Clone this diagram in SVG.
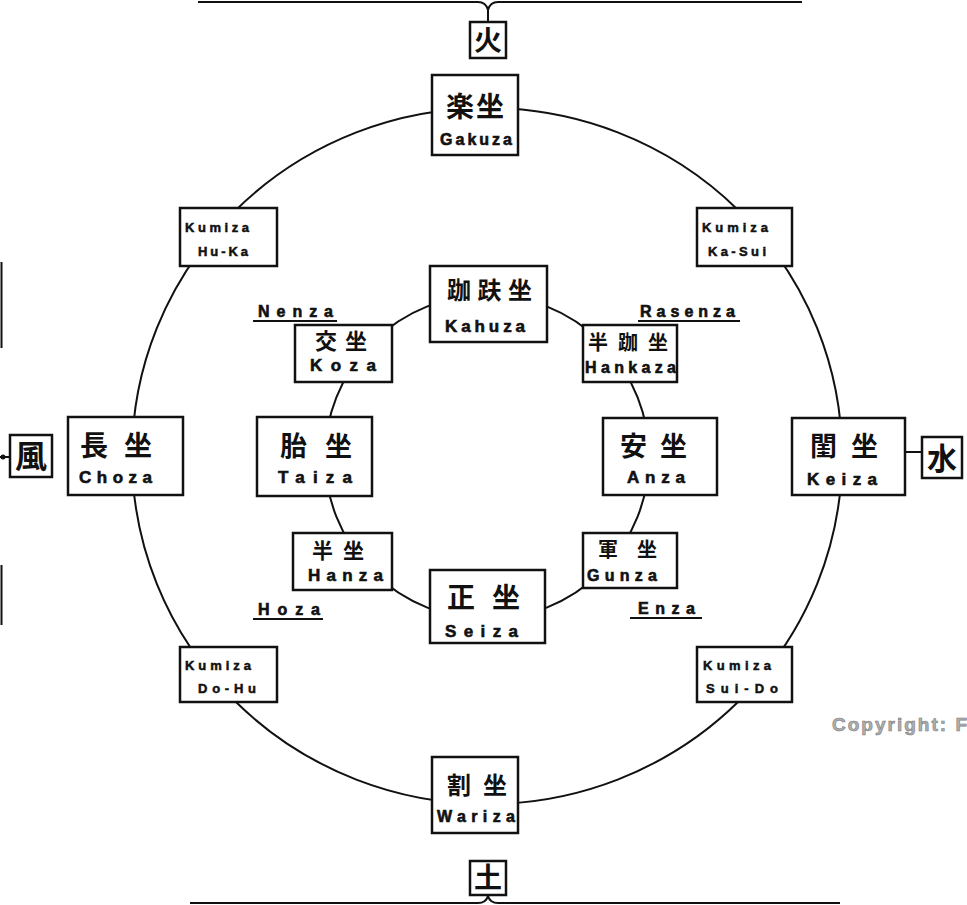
<svg xmlns="http://www.w3.org/2000/svg" width="967" height="905" viewBox="0 0 967 905">
<style>
.bx{fill:#fff;stroke:#111;stroke-width:2.5}
.el{fill:#fff;stroke:#111;stroke-width:2.5}
.ln{fill:none;stroke:#111;stroke-width:2}
.kj{font-family:"Noto Sans CJK JP","Noto Sans CJK SC",sans-serif;font-weight:700;fill:#111}
.rm{font-family:"Liberation Sans","DejaVu Sans",sans-serif;font-weight:700;fill:#111;stroke:#111;stroke-width:0.6}
.km{font-family:"Liberation Sans","DejaVu Sans",sans-serif;font-weight:700;fill:#111;font-size:13px;stroke:#111;stroke-width:0.5}
.ul{stroke:#111;stroke-width:2}
</style>
<rect width="967" height="905" fill="#fff"/>
<g id="connectors">
<ellipse class="ln" cx="487" cy="456" rx="355" ry="348"/>
<circle class="ln" cx="487" cy="457" r="162"/>
<path class="ln" stroke-width="3" d="M198,2 H478 Q486,2 488,10 Q490,2 498,2 H802 M488,10 V22"/>
<path class="ln" stroke-width="3" d="M190,903 H478 Q486,903 488,896 Q490,903 498,903 H840"/>
<path class="ln" d="M905,452 H922"/>
<path class="ln" stroke-width="2.5" d="M1.5,262 V348 M1.5,565 V625 M0,457 H10"/>
<circle cx="3" cy="457" r="2.5" fill="#111"/>
</g>
<g id="fire"><rect class="el" x="470" y="22" width="36" height="36"/><text class="kj" x="488" y="51" font-size="28" text-anchor="middle">火</text></g>
<g id="earth"><rect class="el" x="470" y="861" width="36" height="34"/><text class="kj" x="488" y="888" font-size="28" text-anchor="middle">土</text></g>
<g id="water"><rect class="el" x="922" y="437" width="40" height="41"/><text class="kj" x="942" y="469" font-size="30" text-anchor="middle">水</text></g>
<g id="wind"><rect class="el" x="10" y="435" width="42" height="42" stroke-width="3.5"/><text class="kj" x="31" y="468" font-size="32" text-anchor="middle">風</text></g>
<g id="gakuza"><rect class="bx" x="432" y="75" width="86" height="80"/><text class="kj" x="446" y="117" font-size="28" textLength="58">楽坐</text><text class="rm" x="440" y="145" font-size="16" textLength="72">Gakuza</text></g>
<g id="wariza"><rect class="bx" x="432" y="757" width="86" height="76"/><text class="kj" x="447" y="794" font-size="24" textLength="60">割坐</text><text class="rm" x="437" y="822" font-size="16" textLength="78">Wariza</text></g>
<g id="choza"><rect class="bx" x="68" y="417" width="115" height="78"/><text class="kj" x="80" y="456" font-size="28" textLength="72">長坐</text><text class="rm" x="79" y="483" font-size="17" textLength="73">Choza</text></g>
<g id="keiza"><rect class="bx" x="792" y="418" width="113" height="77"/><text class="kj" x="810" y="456" font-size="27" textLength="68">閨坐</text><text class="rm" x="807" y="485" font-size="17" textLength="70">Keiza</text></g>
<g id="kumiza-huka"><rect class="bx" x="180" y="208" width="97" height="58"/><text class="km" x="185" y="232" textLength="64">Kumiza</text><text class="km" x="198" y="256" textLength="50">Hu-Ka</text></g>
<g id="kumiza-kasui"><rect class="bx" x="697" y="208" width="95" height="58"/><text class="km" x="702" y="232" textLength="66">Kumiza</text><text class="km" x="708" y="256" textLength="58">Ka-Sui</text></g>
<g id="kumiza-dohu"><rect class="bx" x="180" y="647" width="97" height="55"/><text class="km" x="185" y="670" textLength="66">Kumiza</text><text class="km" x="198" y="693" textLength="58">Do-Hu</text></g>
<g id="kumiza-suido"><rect class="bx" x="697" y="647" width="95" height="55"/><text class="km" x="703" y="670" textLength="68">Kumiza</text><text class="km" x="706" y="693" textLength="72">Sui-Do</text></g>
<g id="kahuza"><rect class="bx" x="430" y="266" width="117" height="76"/><text class="kj" x="447" y="299" font-size="24" textLength="85">跏趺坐</text><text class="rm" x="445" y="332" font-size="17" textLength="80">Kahuza</text></g>
<g id="koza"><rect class="bx" x="295" y="325" width="97" height="57"/><text class="kj" x="315" y="349" font-size="22" textLength="52">交坐</text><text class="rm" x="310" y="371" font-size="17" textLength="66">Koza</text></g>
<g id="hankaza"><rect class="bx" x="583" y="325" width="94" height="57"/><text class="kj" x="588" y="350" font-size="20" textLength="80">半跏坐</text><text class="rm" x="585" y="373" font-size="16" textLength="91">Hankaza</text></g>
<g id="taiza"><rect class="bx" x="257" y="417" width="115" height="79"/><text class="kj" x="280" y="456" font-size="27" textLength="72">胎坐</text><text class="rm" x="278" y="483" font-size="17" textLength="74">Taiza</text></g>
<g id="anza"><rect class="bx" x="603" y="418" width="114" height="77"/><text class="kj" x="620" y="456" font-size="27" textLength="67">安坐</text><text class="rm" x="627" y="483" font-size="17" textLength="58">Anza</text></g>
<g id="hanza"><rect class="bx" x="293" y="533" width="99" height="57"/><text class="kj" x="312" y="558" font-size="21" textLength="52">半坐</text><text class="rm" x="308" y="581" font-size="17" textLength="75">Hanza</text></g>
<g id="gunza"><rect class="bx" x="583" y="533" width="94" height="55"/><text class="kj" x="598" y="557" font-size="20" textLength="59">軍坐</text><text class="rm" x="587" y="581" font-size="16" textLength="70">Gunza</text></g>
<g id="seiza"><rect class="bx" x="430" y="570" width="115" height="73"/><text class="kj" x="447" y="608" font-size="28" textLength="73">正坐</text><text class="rm" x="445" y="637" font-size="17" textLength="73">Seiza</text></g>
<g id="nenza"><text class="rm" x="258" y="317" font-size="16" textLength="75">Nenza</text><line class="ul" x1="253" y1="321" x2="337" y2="321"/></g>
<g id="rasenza"><text class="rm" x="640" y="317" font-size="16" textLength="95">Rasenza</text><line class="ul" x1="638" y1="321" x2="740" y2="321"/></g>
<g id="hoza"><text class="rm" x="258" y="615" font-size="16" textLength="62">Hoza</text><line class="ul" x1="253" y1="619" x2="323" y2="619"/></g>
<g id="enza"><text class="rm" x="638" y="614" font-size="16" textLength="57">Enza</text><line class="ul" x1="630" y1="618" x2="702" y2="618"/></g>
<text x="832" y="731" font-family="Liberation Sans,sans-serif" font-weight="700" font-size="19" fill="#b0b0b0" stroke="#7a7a7a" stroke-width="0.6" textLength="135">Copyright: F</text>
</svg>
